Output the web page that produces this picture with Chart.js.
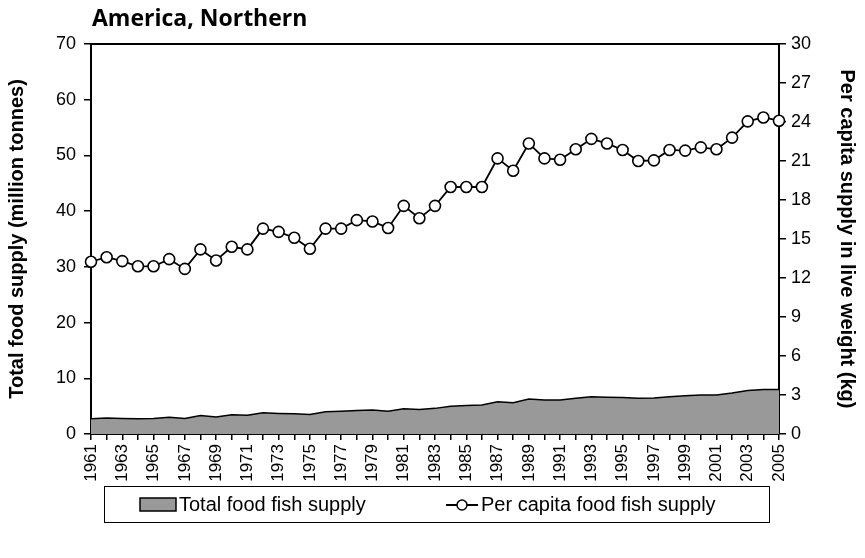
<!DOCTYPE html>
<html>
<head>
<meta charset="utf-8">
<script src="https://cdn.jsdelivr.net/npm/chart.js@4"></script>
<style>
  html, body { margin: 0; padding: 0; background: #fff; }
  #wrap { width: 865px; height: 558px; }
</style>
</head>
<body>
<div id="wrap"><canvas id="fish" width="865" height="558"></canvas></div>
<script>
// years on the x axis
var years = [];
for (var yr = 1961; yr <= 2005; yr++) years.push(String(yr));

// Total food fish supply (million tonnes), left axis
var totalSupply = [2.75, 2.85, 2.8, 2.75, 2.8, 3.0, 2.8, 3.3, 3.05, 3.45, 3.35, 3.8, 3.7, 3.65, 3.5,
  4.0, 4.1, 4.2, 4.3, 4.1, 4.55, 4.4, 4.6, 5.0, 5.1, 5.2, 5.8, 5.6, 6.3, 6.1,
  6.1, 6.4, 6.7, 6.6, 6.55, 6.4, 6.45, 6.7, 6.85, 7.0, 7.0, 7.35, 7.8, 8.0, 8.0];

// Per capita food fish supply (kg), right axis
var perCapita = [13.25, 13.6, 13.3, 12.9, 12.9, 13.45, 12.7, 14.2, 13.35, 14.4, 14.2, 15.8, 15.55, 15.1, 14.25,
  15.8, 15.8, 16.45, 16.35, 15.85, 17.55, 16.6, 17.55, 19.0, 19.0, 19.0, 21.2, 20.25, 22.35, 21.2,
  21.1, 21.9, 22.7, 22.35, 21.85, 21.0, 21.05, 21.85, 21.8, 22.05, 21.9, 22.8, 24.05, 24.35, 24.1];

var fontFam = '"Liberation Sans", Arial, sans-serif';

// frame line along the top of the plot + title + boxed legend
var extras = {
  id: 'extras',
  afterDraw: function(chart) {
    var ctx = chart.ctx;
    var a = chart.chartArea;
    ctx.save();
    ctx.strokeStyle = '#000';
    ctx.lineWidth = 2;
    ctx.beginPath();
    ctx.moveTo(a.left, a.top);
    ctx.lineTo(a.right, a.top);
    ctx.stroke();

    // title
    ctx.fillStyle = '#000';
    ctx.font = 'bold 23px "Open Sans", sans-serif';
    ctx.textBaseline = 'middle';
    ctx.textAlign = 'left';
    ctx.fillText('America, Northern', 92, 19);

    // legend box
    ctx.lineWidth = 1;
    ctx.strokeRect(104.5, 486.5, 665, 36);
    ctx.fillStyle = '#999999';
    ctx.fillRect(140, 498, 36, 13);
    ctx.lineWidth = 1.5;
    ctx.strokeRect(140, 498, 36, 13);
    ctx.fillStyle = '#000';
    ctx.font = '20px ' + fontFam;
    ctx.fillText('Total food fish supply', 179, 505);

    ctx.lineWidth = 2;
    ctx.beginPath();
    ctx.moveTo(446, 505);
    ctx.lineTo(478, 505);
    ctx.stroke();
    ctx.beginPath();
    ctx.arc(462, 505, 5, 0, Math.PI * 2);
    ctx.fillStyle = '#fff';
    ctx.fill();
    ctx.lineWidth = 1.5;
    ctx.stroke();
    ctx.fillStyle = '#000';
    ctx.fillText('Per capita food fish supply', 481, 505);
    ctx.restore();
  }
};

var ctx = document.getElementById('fish').getContext('2d');
var chart = new Chart(ctx, {
  type: 'line',
  data: {
    labels: years,
    datasets: [{
      label: 'Per capita food fish supply',
      data: perCapita,
      yAxisID: 'y1',
      borderColor: '#000',
      borderWidth: 1.8,
      pointRadius: 5.5,
      pointHoverRadius: 5.5,
      pointBackgroundColor: '#fff',
      pointBorderColor: '#000',
      pointBorderWidth: 1.6,
      tension: 0,
      fill: false,
      order: 1
    }, {
      label: 'Total food fish supply',
      data: totalSupply,
      yAxisID: 'y',
      borderColor: '#000',
      borderWidth: 1.5,
      backgroundColor: '#999999',
      pointRadius: 0,
      tension: 0,
      fill: 'origin',
      order: 2
    }]
  },
  options: {
    responsive: false,
    animation: false,
    layout: { padding: { left: 0, right: 0, top: 44, bottom: 64 } },
    plugins: {
      legend: { display: false },
      tooltip: { enabled: false },
      title: { display: false }
    },
    scales: {
      x: {
        offset: false,
        afterFit: function(s) { s.height = 60; },
        border: { display: true, color: '#000', width: 2 },
        grid: { drawOnChartArea: false, drawTicks: true, tickLength: 6, color: '#000', lineWidth: 1.5 },
        ticks: {
          autoSkip: false,
          maxRotation: 90,
          minRotation: 90,
          padding: 4,
          color: '#000',
          font: { family: fontFam, size: 17 },
          callback: function(v, i) { return i % 2 === 0 ? this.getLabelForValue(v) : ''; }
        }
      },
      y: {
        position: 'left',
        min: 0,
        max: 70,
        afterFit: function(s) { s.width = 91; },
        border: { display: true, color: '#000', width: 2 },
        grid: { drawOnChartArea: false, drawTicks: true, tickLength: 7, color: '#000', lineWidth: 1.5 },
        ticks: { stepSize: 10, padding: 8, color: '#000', font: { family: fontFam, size: 18 } },
        title: {
          display: true,
          text: 'Total food supply (million tonnes)',
          color: '#000',
          padding: { top: 5, bottom: 0 },
          font: { family: fontFam, size: 20, weight: 'bold' }
        }
      },
      y1: {
        position: 'right',
        min: 0,
        max: 30,
        afterFit: function(s) { s.width = 86; },
        border: { display: true, color: '#000', width: 2 },
        grid: { drawOnChartArea: false, drawTicks: true, tickLength: 7, color: '#000', lineWidth: 1.5 },
        ticks: { stepSize: 3, padding: 5, color: '#000', font: { family: fontFam, size: 18 } },
        title: {
          display: true,
          text: 'Per capita supply in live weight (kg)',
          color: '#000',
          padding: { top: 6, bottom: 0 },
          font: { family: fontFam, size: 20, weight: 'bold' }
        }
      }
    }
  },
  plugins: [extras]
});
</script>
</body>
</html>
